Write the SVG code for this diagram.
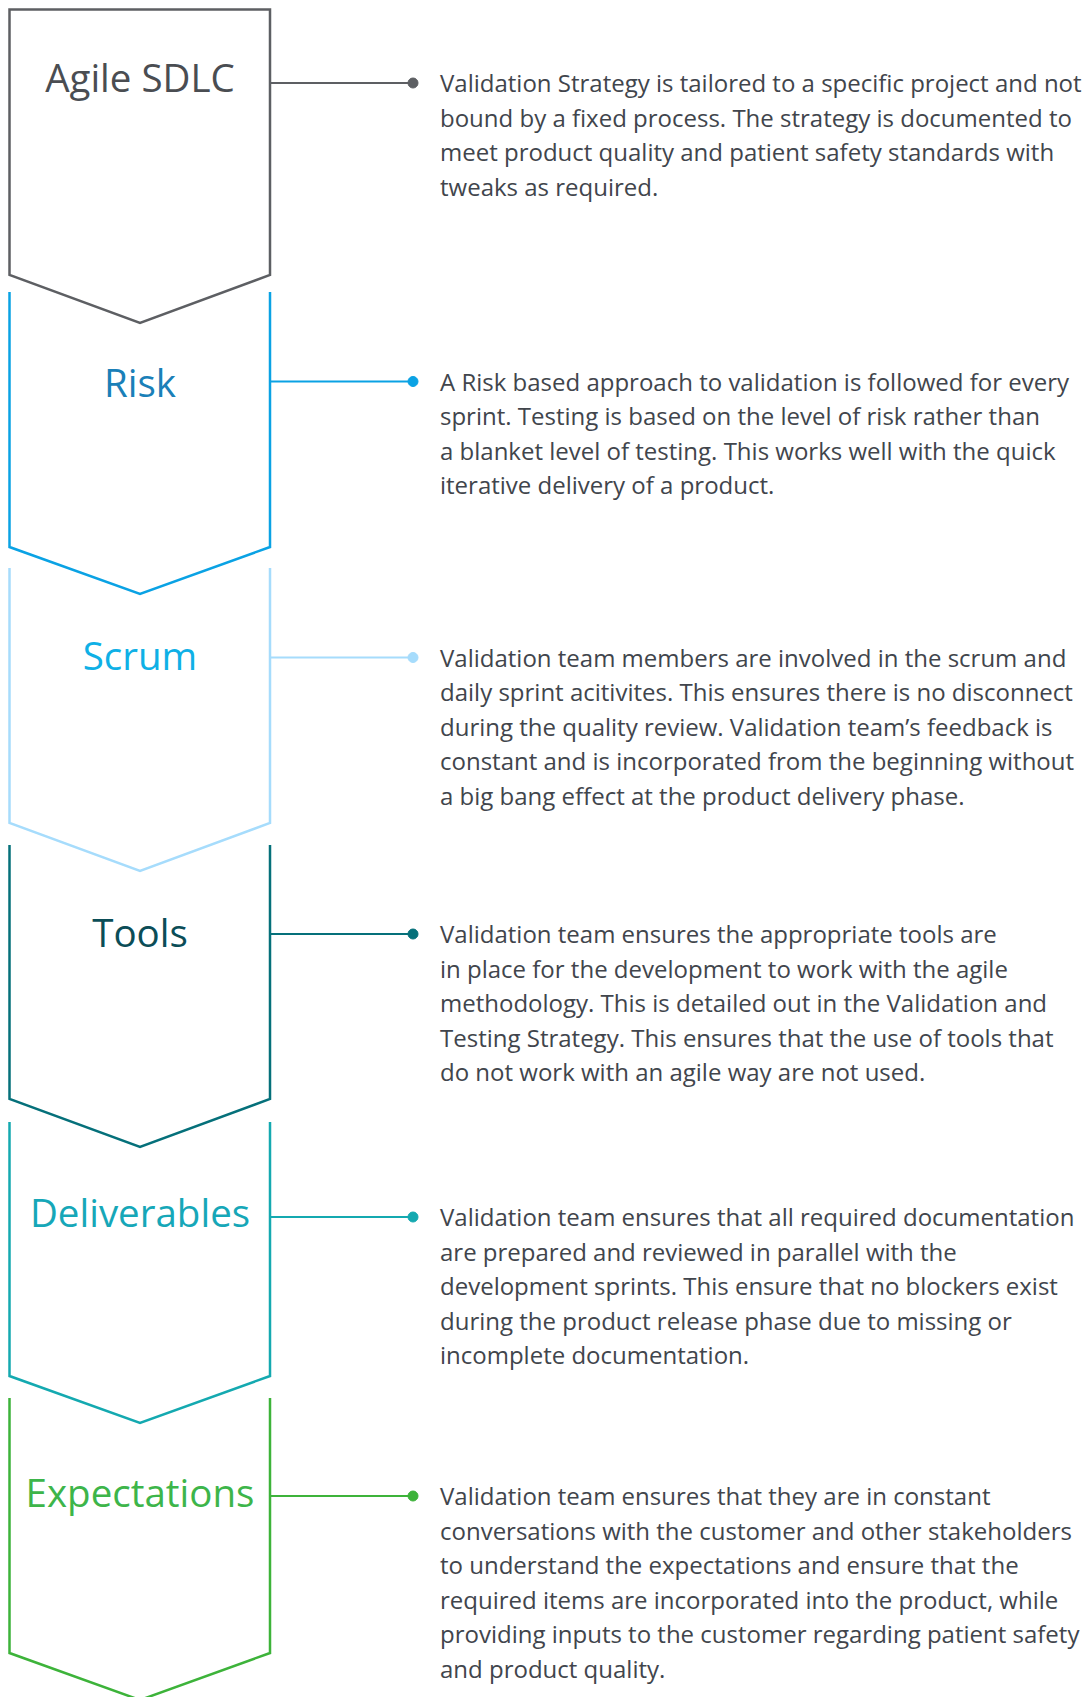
<svg xmlns="http://www.w3.org/2000/svg" width="1089" height="1697" viewBox="0 0 1089 1697">
<style>
.box{fill:none;stroke-width:2.5;stroke-linejoin:miter}
.con{stroke-width:2.2;fill:none}
.head{font-family:"Open Sans","Noto Sans",sans-serif;font-size:38.5px;text-anchor:middle}
.body{font-family:"Open Sans","Noto Sans",sans-serif;font-size:24px;fill:#41454c}
.c1{stroke:#5d5f63;fill:#5d5f63}
.c2{stroke:#0aa2e4;fill:#0aa2e4}
.c3{stroke:#a6dcfc;fill:#a6dcfc}
.c4{stroke:#05707a;fill:#05707a}
.c5{stroke:#14a9b0;fill:#14a9b0}
.c6{stroke:#3db33a;fill:#3db33a}
</style>
<rect width="1089" height="1697" fill="#ffffff"/>
<g id="node-agile">
<path class="box" stroke="#5d5f63" d="M9.5,9.5 H270 V275 L140,323 L9.5,275 Z"/>
<text class="head" x="140" y="92" fill="#4a4d52">Agile SDLC</text>
</g>
<g id="node-risk">
<path class="box" stroke="#0aa2e4" d="M9.5,292 V547 L140,594 L270,547 V292"/>
<text class="head" x="140" y="397" fill="#1a80b8">Risk</text>
</g>
<g id="node-scrum">
<path class="box" stroke="#a6dcfc" d="M9.5,568 V823 L140,871 L270,823 V568"/>
<text class="head" x="140" y="670" fill="#0fb0e6">Scrum</text>
</g>
<g id="node-tools">
<path class="box" stroke="#05707a" d="M9.5,845 V1099 L140,1147 L270,1099 V845"/>
<text class="head" x="140" y="947" fill="#0b4d57">Tools</text>
</g>
<g id="node-deliverables">
<path class="box" stroke="#14a9b0" d="M9.5,1122 V1376 L140,1423 L270,1376 V1122"/>
<text class="head" x="140" y="1227" fill="#16a7b8">Deliverables</text>
</g>
<g id="node-expectations">
<path class="box" stroke="#3db33a" d="M9.5,1398 V1653 L140,1700 L270,1653 V1398"/>
<text class="head" x="140" y="1507" fill="#3db54a">Expectations</text>
</g>
<g id="connectors">
<line class="con c1" x1="270" y1="83" x2="413" y2="83"/><circle class="c1" cx="413" cy="83" r="5" stroke="none"/>
<line class="con c2" x1="270" y1="381.5" x2="413" y2="381.5"/><circle class="c2" cx="413" cy="381.5" r="5" stroke="none"/>
<line class="con c3" x1="270" y1="657.5" x2="413" y2="657.5"/><circle class="c3" cx="413" cy="657.5" r="5" stroke="none"/>
<line class="con c4" x1="270" y1="934" x2="413" y2="934"/><circle class="c4" cx="413" cy="934" r="5" stroke="none"/>
<line class="con c5" x1="270" y1="1217" x2="413" y2="1217"/><circle class="c5" cx="413" cy="1217" r="5" stroke="none"/>
<line class="con c6" x1="270" y1="1496" x2="413" y2="1496"/><circle class="c6" cx="413" cy="1496" r="5" stroke="none"/>
</g>
<g id="texts">
<text class="body" x="440" y="92">
<tspan x="440" y="92">Validation Strategy is tailored to a specific project and not</tspan>
<tspan x="440" y="126.6">bound by a fixed process. The strategy is documented to</tspan>
<tspan x="440" y="161.2">meet product quality and patient safety standards with</tspan>
<tspan x="440" y="195.8">tweaks as required.</tspan>
</text>
<text class="body" x="440" y="390.5">
<tspan x="440" y="390.5">A Risk based approach to validation is followed for every</tspan>
<tspan x="440" y="425.1">sprint. Testing is based on the level of risk rather than</tspan>
<tspan x="440" y="459.7">a blanket level of testing. This works well with the quick</tspan>
<tspan x="440" y="494.3">iterative delivery of a product.</tspan>
</text>
<text class="body" x="440" y="666.5">
<tspan x="440" y="666.5">Validation team members are involved in the scrum and</tspan>
<tspan x="440" y="701.1">daily sprint acitivites. This ensures there is no disconnect</tspan>
<tspan x="440" y="735.7">during the quality review. Validation team’s feedback is</tspan>
<tspan x="440" y="770.3">constant and is incorporated from the beginning without</tspan>
<tspan x="440" y="804.9">a big bang effect at the product delivery phase.</tspan>
</text>
<text class="body" x="440" y="943">
<tspan x="440" y="943">Validation team ensures the appropriate tools are</tspan>
<tspan x="440" y="977.6">in place for the development to work with the agile</tspan>
<tspan x="440" y="1012.2">methodology. This is detailed out in the Validation and</tspan>
<tspan x="440" y="1046.8">Testing Strategy. This ensures that the use of tools that</tspan>
<tspan x="440" y="1081.4">do not work with an agile way are not used.</tspan>
</text>
<text class="body" x="440" y="1226">
<tspan x="440" y="1226">Validation team ensures that all required documentation</tspan>
<tspan x="440" y="1260.6">are prepared and reviewed in parallel with the</tspan>
<tspan x="440" y="1295.2">development sprints. This ensure that no blockers exist</tspan>
<tspan x="440" y="1329.8">during the product release phase due to missing or</tspan>
<tspan x="440" y="1364.4">incomplete documentation.</tspan>
</text>
<text class="body" x="440" y="1505">
<tspan x="440" y="1505">Validation team ensures that they are in constant</tspan>
<tspan x="440" y="1539.6">conversations with the customer and other stakeholders</tspan>
<tspan x="440" y="1574.2">to understand the expectations and ensure that the</tspan>
<tspan x="440" y="1608.8">required items are incorporated into the product, while</tspan>
<tspan x="440" y="1643.4">providing inputs to the customer regarding patient safety</tspan>
<tspan x="440" y="1678">and product quality.</tspan>
</text>
</g>
</svg>
